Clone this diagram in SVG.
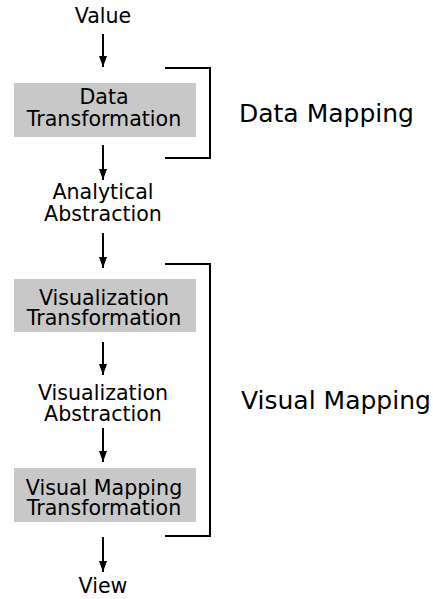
<svg xmlns="http://www.w3.org/2000/svg" width="433" height="599" viewBox="0 0 433 599">
<style>
text{font-family:"DejaVu Sans",sans-serif;fill:#000}
.n{font-size:20.6px;text-anchor:middle}
.g{font-size:25px}
.box{fill:#c8c8c8}
.c{stroke:#000;stroke-width:2;fill:none}
</style>
<defs>
<marker id="ah" markerWidth="11" markerHeight="8" refX="11" refY="4" orient="auto" markerUnits="userSpaceOnUse" viewBox="0 0 11 8">
<path d="M0,0 L11,4 L0,8 Z" fill="#000"/>
</marker>
</defs>
<rect width="433" height="599" fill="#fff"/>
<g id="connectors">
<line class="c" x1="103" y1="34" x2="103" y2="67" marker-end="url(#ah)"/>
<line class="c" x1="103" y1="145" x2="103" y2="180" marker-end="url(#ah)"/>
<line class="c" x1="103" y1="233" x2="103" y2="268" marker-end="url(#ah)"/>
<line class="c" x1="103" y1="342" x2="103" y2="375" marker-end="url(#ah)"/>
<line class="c" x1="103" y1="428" x2="103" y2="462" marker-end="url(#ah)"/>
<line class="c" x1="103" y1="537" x2="103" y2="572" marker-end="url(#ah)"/>
</g>
<g id="value"><text class="n" x="103" y="23">Value</text></g>
<g id="data-transformation">
<rect class="box" x="14" y="83" width="182" height="54"/>
<text class="n" x="104" y="104">Data</text>
<text class="n" x="104" y="126">Transformation</text>
</g>
<g id="analytical-abstraction">
<text class="n" x="103" y="199">Analytical</text>
<text class="n" x="103" y="221">Abstraction</text>
</g>
<g id="visualization-transformation">
<rect class="box" x="14" y="279" width="182" height="53"/>
<text class="n" x="104" y="305">Visualization</text>
<text class="n" x="104" y="325">Transformation</text>
</g>
<g id="visualization-abstraction">
<text class="n" x="103" y="400">Visualization</text>
<text class="n" x="103" y="421">Abstraction</text>
</g>
<g id="visual-mapping-transformation">
<rect class="box" x="14" y="468" width="182" height="54"/>
<text class="n" x="104" y="495">Visual Mapping</text>
<text class="n" x="104" y="515">Transformation</text>
</g>
<g id="view"><text class="n" x="103" y="593">View</text></g>
<g id="data-mapping">
<path class="c" d="M165,68 H210 V158 H165"/>
<text class="g" x="239" y="122">Data Mapping</text>
</g>
<g id="visual-mapping">
<path class="c" d="M165,264 H210 V536 H165"/>
<text class="g" x="241" y="409">Visual Mapping</text>
</g>
</svg>
